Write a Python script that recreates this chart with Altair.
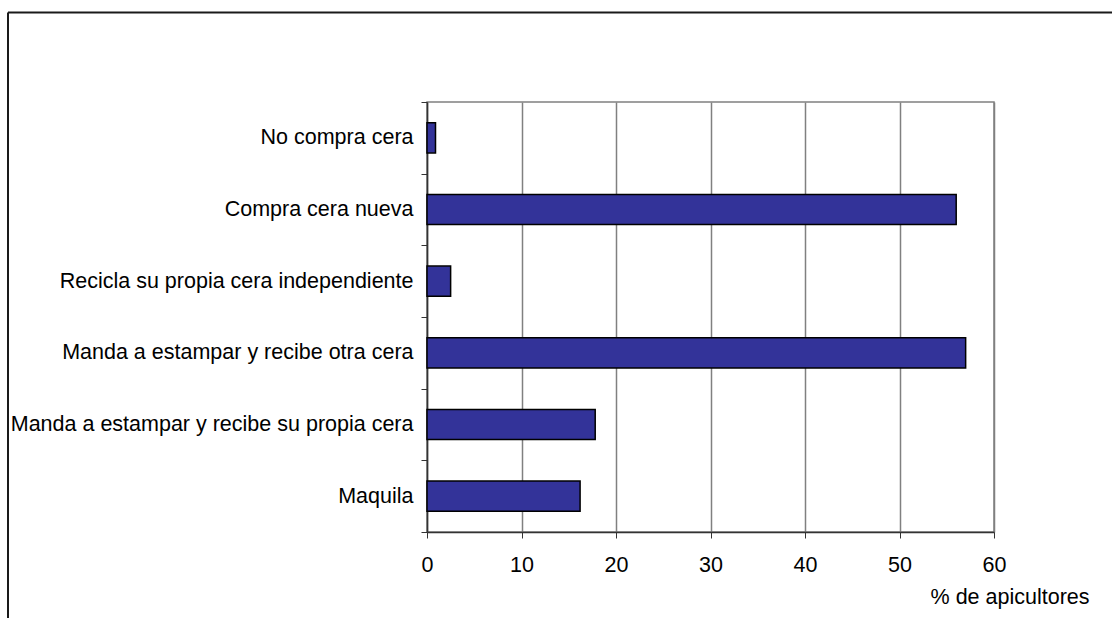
import altair as alt
import pandas as pd

categories = [
    "No compra cera",
    "Compra cera nueva",
    "Recicla su propia cera independiente",
    "Manda a estampar y recibe otra cera",
    "Manda a estampar y recibe su propia cera",
    "Maquila",
]
values = [0.9, 56.0, 2.5, 57.0, 17.8, 16.2]
x_ticks = [0, 10, 20, 30, 40, 50, 60]
x_title = "% de apicultores"

df = pd.DataFrame({"cat": categories, "val": values})

W, H = 567, 430
LEFT, TOP = 427, 102
FONT = "Liberation Sans"
FS = 21.5

bars = alt.Chart(df).mark_bar(
    color="#333399", stroke="#000000", strokeWidth=1.5, height={"band": 0.42}
).encode(
    x=alt.X(
        "val:Q",
        scale=alt.Scale(domain=[0, 60], nice=False),
        axis=alt.Axis(
            values=x_ticks,
            title=x_title,
            titleX=662,
            titleY=71,
            titleAlign="right",
            titleBaseline="alphabetic",
            titleFont=FONT,
            titleFontSize=FS,
            titleFontWeight="normal",
            titleColor="#000000",
            grid=True,
            gridColor="#808080",
            gridWidth=1.5,
            tickSize=6,
            tickColor="#333333",
            domainColor="#333333",
            domainWidth=1.5,
            labelFont=FONT,
            labelFontSize=FS,
            labelColor="#000000",
            labelPadding=16,
            labelFlush=False,
        ),
    ),
    y=alt.Y(
        "cat:N",
        sort=categories,
        scale=alt.Scale(paddingInner=0, paddingOuter=0),
        axis=alt.Axis(
            title=None,
            tickBand="extent",
            tickSize=6,
            tickColor="#333333",
            domainColor="#333333",
            domainWidth=1.5,
            labelFont=FONT,
            labelFontSize=FS,
            labelColor="#000000",
            labelPadding=8,
            labelLimit=500,
            grid=False,
        ),
    ),
)

frame_data = alt.Data(values=[{"k": 1}])
top_line = alt.Chart(frame_data).mark_rule(color="#1a1a1a", strokeWidth=2).encode(
    x=alt.value(8 - LEFT), x2=alt.value(1112 - LEFT + 10), y=alt.value(12.5 - TOP)
)
left_line = alt.Chart(frame_data).mark_rule(color="#1a1a1a", strokeWidth=2).encode(
    x=alt.value(8 - LEFT), y=alt.value(12.5 - TOP), y2=alt.value(618 - TOP + 10)
)

chart = alt.layer(bars, top_line, left_line).properties(
    width=W,
    height=H,
    autosize=alt.AutoSizeParams(type="none"),
    padding={"left": LEFT, "top": TOP, "right": 1112 - LEFT - W, "bottom": 618 - TOP - H},
    background="#ffffff",
).configure_view(stroke="#808080", strokeWidth=1.5)

chart.save("out.html", embed_options={"renderer": "svg", "actions": False})
